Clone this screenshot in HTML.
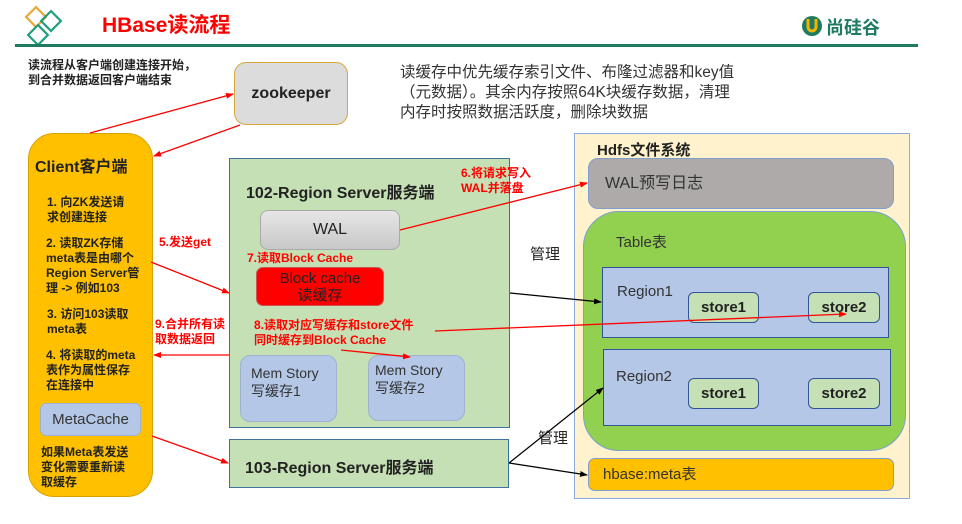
<!DOCTYPE html>
<html><head><meta charset="utf-8"><style>
*{margin:0;padding:0;box-sizing:border-box}
body{width:962px;height:524px;background:#fff;position:relative;overflow:hidden;font-family:"Liberation Sans","Noto Sans CJK SC",sans-serif;color:#222}
.a{position:absolute}
.b{font-weight:bold}
.r{color:#ff0000;font-weight:bold;font-size:12px;line-height:15px}
.t12{font-size:12px;line-height:15px;font-weight:bold}
</style></head><body>
<svg class="a" style="left:0;top:0" width="962" height="524">
<g fill="none" stroke-width="2.2">
<rect x="29" y="10" width="14" height="14" transform="rotate(45 36 17)" stroke="#e8a838"/>
<rect x="44" y="14" width="14" height="14" transform="rotate(45 51 21)" stroke="#1f9e80"/>
<rect x="31" y="28" width="14" height="14" transform="rotate(45 38 35)" stroke="#1f9e80"/>
</g>
<rect x="15" y="44" width="903" height="3" fill="#1e7a60"/>
<circle cx="812" cy="26" r="10" fill="#1e7a60"/>
<path d="M808 19v8a4 4 0 0 0 8 0v-8" stroke="#f5b300" stroke-width="3" fill="none"/>
</svg>
<div class="a b" style="left:102px;top:9px;font-size:21px;color:#ff0000">HBase读流程</div>
<div class="a" style="left:826px;top:14px;font-size:18px;color:#1e7a60;font-weight:bold">尚硅谷</div>
<div class="a t12" style="left:28px;top:58px">读流程从客户端创建连接开始，<br>到合并数据返回客户端结束</div>
<div class="a" style="left:234px;top:62px;width:114px;height:63px;background:#dcdcdc;border:1px solid #d6a83a;border-radius:12px;font-size:16px;font-weight:bold;text-align:center;line-height:61px">zookeeper</div>
<div class="a" style="left:400px;top:63px;font-size:15.5px;line-height:20px;color:#333">读缓存中优先缓存索引文件、布隆过滤器和key值<br>（元数据）。其余内存按照64K块缓存数据，清理<br>内存时按照数据活跃度，删除块数据</div>

<div class="a" style="left:28px;top:133px;width:125px;height:364px;background:#ffc000;border:1px solid #d8a200;border-radius:26px"></div>
<div class="a" style="left:35px;top:153px;font-size:16px;font-weight:bold">Client客户端</div>
<div class="a t12" style="left:47px;top:195px;width:100px">1. 向ZK发送请<br>求创建连接</div>
<div class="a t12" style="left:46px;top:236px;width:106px">2. 读取ZK存储<br>meta表是由哪个<br>Region Server管<br>理 -&gt; 例如103</div>
<div class="a t12" style="left:47px;top:307px">3. 访问103读取<br>meta表</div>
<div class="a t12" style="left:46px;top:348px">4. 将读取的meta<br>表作为属性保存<br>在连接中</div>
<div class="a" style="left:40px;top:403px;width:101px;height:33px;background:#b4c7e7;border:1px solid #9fb3d0;border-radius:6px;font-size:15px;text-align:center;line-height:32px;color:#333">MetaCache</div>
<div class="a t12" style="left:41px;top:445px">如果Meta表发送<br>变化需要重新读<br>取缓存</div>

<div class="a" style="left:229px;top:158px;width:281px;height:270px;background:#c5e0b4;border:1px solid #41719c"></div>
<div class="a b" style="left:246px;top:179px;font-size:16px">102-Region Server服务端</div>
<div class="a" style="left:260px;top:210px;width:140px;height:40px;background:linear-gradient(#e6e6e6,#c8c8c8);border:1px solid #aaa;border-radius:8px;font-size:16px;text-align:center;line-height:38px">WAL</div>
<div class="a r" style="left:247px;top:251px">7.读取Block Cache</div>
<div class="a" style="left:256px;top:267px;width:128px;height:39px;background:#ff0000;border:1px solid #c55;border-radius:7px;font-size:15px;text-align:center;line-height:17px;padding-top:2px;color:#222">Block cache<br>读缓存</div>
<div class="a r" style="left:254px;top:318px">8.读取对应写缓存和store文件<br>同时缓存到Block Cache</div>
<div class="a" style="left:240px;top:355px;width:97px;height:67px;background:#b4c7e7;border:1px solid #9fb3d0;border-radius:10px;font-size:14px;line-height:18px;padding:8px 0 0 10px;color:#333">Mem Story<br>写缓存1</div>
<div class="a" style="left:368px;top:355px;width:97px;height:66px;background:#b4c7e7;border:1px solid #9fb3d0;border-radius:10px;font-size:14px;line-height:18px;padding:5px 0 0 6px;color:#333">Mem Story<br>写缓存2</div>
<div class="a" style="left:229px;top:439px;width:280px;height:49px;background:#c5e0b4;border:1px solid #41719c"></div>
<div class="a b" style="left:245px;top:454px;font-size:16px">103-Region Server服务端</div>
<div class="a r" style="left:159px;top:235px">5.发送get</div>
<div class="a r" style="left:155px;top:317px">9.合并所有读<br>取数据返回</div>
<div class="a r" style="left:461px;top:166px">6.将请求写入<br>WAL并落盘</div>
<div class="a" style="left:530px;top:243px;font-size:15px">管理</div>
<div class="a" style="left:538px;top:427px;font-size:15px">管理</div>

<div class="a" style="left:574px;top:133px;width:336px;height:366px;background:#fff2cc;border:1px solid #8faadc"></div>
<div class="a b" style="left:597px;top:139px;font-size:15px">Hdfs文件系统</div>
<div class="a" style="left:588px;top:158px;width:306px;height:51px;background:#aeaaaa;border:1px solid #7f9fd0;border-radius:10px;font-size:16px;line-height:49px;padding-left:16px;color:#333">WAL预写日志</div>
<div class="a" style="left:583px;top:211px;width:323px;height:240px;background:#92d050;border:1px solid #7aa0d0;border-radius:36px"></div>
<div class="a" style="left:616px;top:231px;font-size:15px;color:#333">Table表</div>
<div class="a" style="left:602px;top:267px;width:287px;height:71px;background:#b4c7e7;border:1px solid #2f5597"></div>
<div class="a" style="left:617px;top:283px;font-size:15px;color:#333">Region1</div>
<div class="a" style="left:603px;top:349px;width:288px;height:77px;background:#b4c7e7;border:1px solid #2f5597"></div>
<div class="a" style="left:616px;top:368px;font-size:15px;color:#333">Region2</div>
<div class="a b" style="left:688px;top:292px;width:71px;height:31px;background:#c5e0b4;border:1px solid #2f5597;border-radius:6px;font-size:15px;text-align:center;line-height:29px">store1</div>
<div class="a b" style="left:808px;top:292px;width:72px;height:31px;background:#c5e0b4;border:1px solid #2f5597;border-radius:6px;font-size:15px;text-align:center;line-height:29px">store2</div>
<div class="a b" style="left:688px;top:378px;width:71px;height:31px;background:#c5e0b4;border:1px solid #2f5597;border-radius:6px;font-size:15px;text-align:center;line-height:29px">store1</div>
<div class="a b" style="left:808px;top:378px;width:72px;height:31px;background:#c5e0b4;border:1px solid #2f5597;border-radius:6px;font-size:15px;text-align:center;line-height:29px">store2</div>
<div class="a" style="left:588px;top:458px;width:306px;height:33px;background:#ffc000;border:1px solid #7f9fd0;border-radius:7px;font-size:15px;line-height:31px;padding-left:14px;color:#333">hbase:meta表</div>

<svg class="a" style="left:0;top:0" width="962" height="524">
<defs>
<marker id="ar" markerWidth="8" markerHeight="8" refX="7" refY="4" orient="auto" markerUnits="userSpaceOnUse"><path d="M0,1 L8,4 L0,7z" fill="#ff0000"/></marker>
<marker id="ak" markerWidth="8" markerHeight="8" refX="7" refY="4" orient="auto" markerUnits="userSpaceOnUse"><path d="M0,1 L8,4 L0,7z" fill="#000"/></marker>
</defs>
<g stroke="#ff0000" stroke-width="1.3" marker-end="url(#ar)">
<line x1="90" y1="133" x2="233" y2="94"/>
<line x1="240" y1="125" x2="154" y2="156"/>
<line x1="151" y1="262" x2="229" y2="293"/>
<line x1="229" y1="355" x2="154" y2="355"/>
<line x1="152" y1="436" x2="228" y2="463"/>
<line x1="400" y1="230" x2="587" y2="183"/>
<line x1="435" y1="331" x2="846" y2="314"/>
<line x1="341" y1="350" x2="410" y2="357"/>
</g>
<g stroke="#000" stroke-width="1.2" marker-end="url(#ak)">
<line x1="510" y1="293" x2="601" y2="302"/>
<line x1="509" y1="463" x2="603" y2="388"/>
<line x1="509" y1="463" x2="587" y2="475"/>
</g>
</svg>
</body></html>
